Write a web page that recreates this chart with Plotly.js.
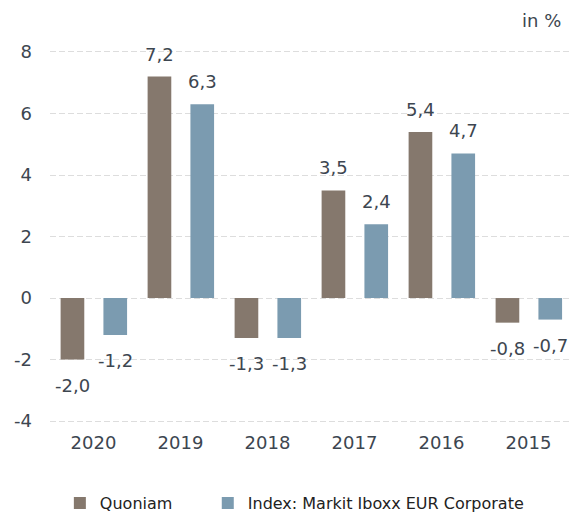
<!DOCTYPE html>
<html>
<head>
<meta charset="utf-8">
<script src="https://cdn.plot.ly/plotly-3.0.1.min.js"></script>
<style>html,body{margin:0;padding:0;background:#fff;}#chart{width:569px;height:517px;}</style>
</head>
<body>
<div id="chart"></div>
<script>
const years = ['2020', '2019', '2018', '2017', '2016', '2015'];
const quoniam = [-2.0, 7.2, -1.3, 3.5, 5.4, -0.8];
const index = [-1.2, 6.3, -1.3, 2.4, 4.7, -0.7];
const seriesNames = ['Quoniam', 'Index: Markit Iboxx EUR Corporate'];
const yTicks = [-4, -2, 0, 2, 4, 6, 8];
const unitLabel = 'in %';

const textColor = '#3d4650';
const colors = ['#85786d', '#7b9bb0'];
const offsets = [-0.378, 0.114];
const barWidth = 0.272;
const xMax = -0.5 + 519 / 87;
const legendRefs = ['legend', 'legend2'];

const fmt = v => v.toFixed(1).replace('.', ',');

const series = [quoniam, index];
const traces = series.map((vals, k) => ({
  type: 'bar',
  name: seriesNames[k],
  x: years,
  y: vals,
  offset: offsets[k],
  width: barWidth,
  marker: {color: colors[k]},
  legend: legendRefs[k],
  hoverinfo: 'skip'
}));

const annotations = [];
series.forEach((vals, k) => {
  vals.forEach((v, i) => {
    annotations.push({
      x: i + offsets[k] + barWidth / 2, y: v, xref: 'x', yref: 'y',
      text: fmt(v), showarrow: false,
      yanchor: v >= 0 ? 'bottom' : 'top',
      yshift: v >= 0 ? 10 : -13,
      font: {family: 'DejaVu Sans', size: 18, color: textColor}
    });
  });
});
annotations.push({
  xref: 'paper', yref: 'paper', x: 1, y: 1, xanchor: 'right', yanchor: 'bottom',
  xshift: -6, yshift: -3,
  text: unitLabel, showarrow: false,
  font: {family: 'DejaVu Sans', size: 18, color: textColor}
});

const yMin = -4.29, yMax = 8.715;
const zeroPos = (0 - yMin) / (yMax - yMin);

const legendStyle = x => ({
  orientation: 'h',
  x: x, xanchor: 'left',
  y: -0.14, yanchor: 'top',
  font: {family: 'DejaVu Sans', size: 16, color: '#222222'},
  bgcolor: 'rgba(0,0,0,0)'
});

const layout = {
  width: 569, height: 517,
  margin: {l: 50, r: 0, t: 30, b: 87, autoexpand: false},
  paper_bgcolor: '#fff', plot_bgcolor: '#fff',
  barmode: 'overlay',
  showlegend: true,
  font: {family: 'DejaVu Sans', size: 18, color: textColor},
  xaxis: {
    type: 'category',
    range: [-0.5, xMax],
    showgrid: false, showline: false, zeroline: false,
    ticks: '',
    tickfont: {family: 'DejaVu Sans', size: 18, color: textColor},
    fixedrange: true
  },
  xaxis2: {
    overlaying: 'x',
    anchor: 'free',
    position: zeroPos,
    range: [-0.5, xMax],
    tickvals: years.map((_, i) => i - 0.5).concat([years.length - 0.5]),
    showticklabels: false,
    showgrid: false, zeroline: false,
    showline: true, linecolor: '#999999', linewidth: 2,
    ticks: 'outside', ticklen: 6, tickwidth: 1, tickcolor: '#999999'
  },
  yaxis: {
    range: [yMin, yMax],
    tickvals: yTicks,
    ticktext: yTicks.map(String),
    showgrid: true, gridcolor: '#dddddd', gridwidth: 1, griddash: '6px,3px',
    zeroline: false, showline: false, ticks: '',
    ticklabelstandoff: 17,
    tickfont: {family: 'DejaVu Sans', size: 18, color: textColor},
    fixedrange: true
  },
  legend: legendStyle(0.019),
  legend2: legendStyle(0.304),
  annotations: annotations
};

Plotly.newPlot('chart', traces, layout, {displayModeBar: false, staticPlot: true});
</script>
</body>
</html>
